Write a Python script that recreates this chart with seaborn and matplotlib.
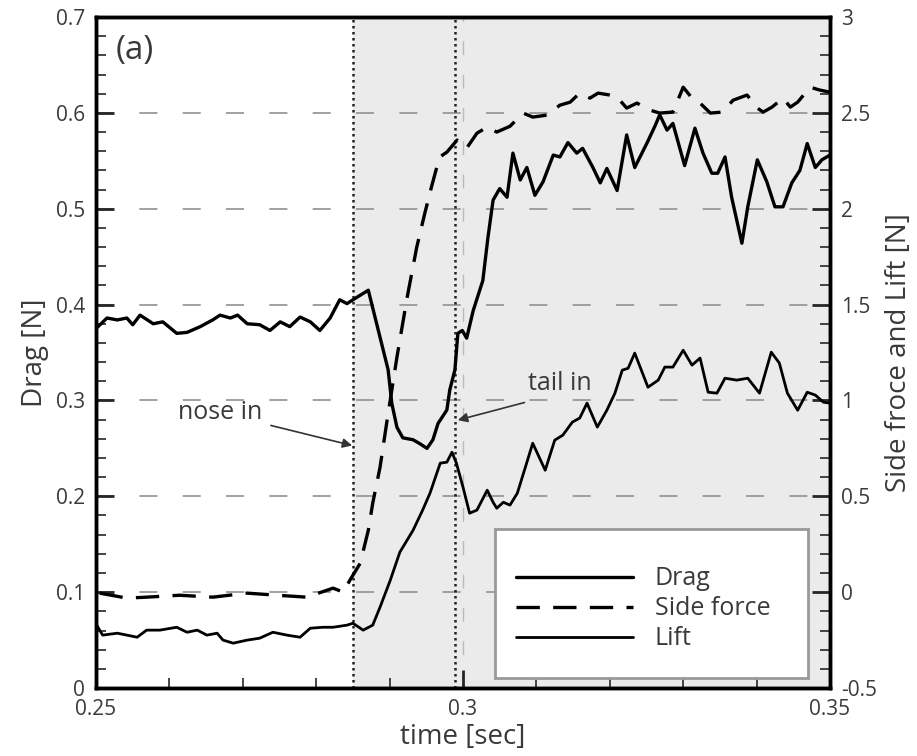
import numpy as np
import pandas as pd
import matplotlib
matplotlib.use("Agg")
import matplotlib.pyplot as plt
from matplotlib.ticker import MultipleLocator
from matplotlib.patches import Rectangle
import seaborn as sns

# drag (left axis)
drag_t = [0.2500, 0.2515, 0.2529, 0.2542, 0.2550, 0.2560, 0.2578, 0.2591, 0.2610, 0.2624,
          0.2642, 0.2659, 0.2669, 0.2683, 0.2693, 0.2706, 0.2723, 0.2737, 0.2751, 0.2764,
          0.2778, 0.2792, 0.2805, 0.2819, 0.2832, 0.2842, 0.2850, 0.2871, 0.2898, 0.2903,
          0.2910, 0.2918, 0.2932, 0.2941, 0.2951, 0.2959, 0.2966, 0.2978, 0.2982, 0.2989,
          0.2993, 0.2999, 0.3005, 0.3014, 0.3027, 0.3034, 0.3041, 0.3050, 0.3060, 0.3068,
          0.3078, 0.3087, 0.3098, 0.3109, 0.3123, 0.3132, 0.3143, 0.3155, 0.3163, 0.3177,
          0.3187, 0.3196, 0.3210, 0.3223, 0.3234, 0.3251, 0.3262, 0.3268, 0.3278, 0.3286,
          0.3302, 0.3316, 0.3327, 0.3339, 0.3347, 0.3357, 0.3366, 0.3380, 0.3388, 0.3401,
          0.3414, 0.3425, 0.3436, 0.3448, 0.3459, 0.3469, 0.3480, 0.3489, 0.3500]
drag = [0.375, 0.386, 0.384, 0.386, 0.379, 0.389, 0.380, 0.382, 0.370, 0.371,
        0.377, 0.384, 0.389, 0.386, 0.389, 0.380, 0.379, 0.373, 0.382, 0.377,
        0.387, 0.382, 0.373, 0.386, 0.405, 0.401, 0.405, 0.415, 0.332, 0.297,
        0.272, 0.261, 0.259, 0.255, 0.250, 0.259, 0.276, 0.290, 0.311, 0.332,
        0.370, 0.373, 0.365, 0.394, 0.425, 0.470, 0.509, 0.521, 0.512, 0.558,
        0.530, 0.543, 0.514, 0.528, 0.556, 0.554, 0.569, 0.558, 0.563, 0.543,
        0.527, 0.542, 0.519, 0.577, 0.543, 0.569, 0.587, 0.598, 0.582, 0.589,
        0.545, 0.584, 0.558, 0.537, 0.537, 0.554, 0.512, 0.464, 0.502, 0.551,
        0.528, 0.502, 0.502, 0.527, 0.540, 0.568, 0.543, 0.551, 0.556]

# side force (right axis)
side_t = [0.2505, 0.2542, 0.2569, 0.2614, 0.2659, 0.2706, 0.2747, 0.2787, 0.2823, 0.2837,
          0.2846, 0.2860, 0.2871, 0.2877, 0.2887, 0.2896, 0.2910, 0.2924, 0.2937, 0.2948,
          0.2957, 0.2968, 0.2978, 0.2992, 0.3005, 0.3019, 0.3033, 0.3046, 0.3064, 0.3082,
          0.3095, 0.3114, 0.3132, 0.3146, 0.3159, 0.3173, 0.3184, 0.3200, 0.3210, 0.3223,
          0.3237, 0.3255, 0.3268, 0.3286, 0.3300, 0.3312, 0.3323, 0.3337, 0.3353, 0.3368,
          0.3387, 0.3401, 0.3409, 0.3421, 0.3436, 0.3446, 0.3456, 0.3473, 0.3486, 0.3500]
side = [-0.005, -0.031, -0.026, -0.016, -0.026, -0.005, -0.016, -0.026, 0.021, 0.000,
        0.063, 0.151, 0.323, 0.464, 0.652, 0.882, 1.226, 1.539, 1.800, 1.977,
        2.113, 2.269, 2.295, 2.358, 2.316, 2.394, 2.426, 2.400, 2.430, 2.499,
        2.478, 2.488, 2.540, 2.556, 2.603, 2.577, 2.603, 2.593, 2.582, 2.525,
        2.551, 2.514, 2.499, 2.504, 2.634, 2.577, 2.551, 2.499, 2.504, 2.566,
        2.593, 2.525, 2.504, 2.530, 2.577, 2.530, 2.556, 2.634, 2.619, 2.608]

# lift (right axis)
lift_t = [0.2501, 0.2509, 0.2529, 0.2542, 0.2556, 0.2569, 0.2587, 0.2610, 0.2624, 0.2638,
          0.2651, 0.2665, 0.2673, 0.2687, 0.2706, 0.2723, 0.2741, 0.2760, 0.2778, 0.2792,
          0.2809, 0.2823, 0.2842, 0.2850, 0.2864, 0.2877, 0.2887, 0.2901, 0.2914, 0.2932,
          0.2945, 0.2955, 0.2969, 0.2978, 0.2985, 0.2991, 0.3000, 0.3009, 0.3019, 0.3033,
          0.3041, 0.3046, 0.3055, 0.3064, 0.3074, 0.3085, 0.3095, 0.3112, 0.3125, 0.3136,
          0.3149, 0.3159, 0.3169, 0.3183, 0.3196, 0.3207, 0.3217, 0.3225, 0.3234, 0.3252,
          0.3266, 0.3275, 0.3286, 0.3300, 0.3312, 0.3323, 0.3334, 0.3346, 0.3357, 0.3373,
          0.3388, 0.3404, 0.3420, 0.3431, 0.3442, 0.3456, 0.3469, 0.3480, 0.3491, 0.3500]
lift = [-0.172, -0.224, -0.214, -0.224, -0.235, -0.198, -0.198, -0.183, -0.209, -0.198,
        -0.224, -0.214, -0.250, -0.266, -0.250, -0.240, -0.209, -0.224, -0.235, -0.188,
        -0.183, -0.183, -0.172, -0.162, -0.198, -0.172, -0.078, 0.063, 0.209, 0.323,
        0.428, 0.516, 0.673, 0.678, 0.730, 0.673, 0.548, 0.412, 0.428, 0.532,
        0.469, 0.438, 0.469, 0.454, 0.516, 0.652, 0.777, 0.636, 0.793, 0.819,
        0.887, 0.908, 0.986, 0.861, 0.949, 1.038, 1.158, 1.168, 1.247, 1.069,
        1.106, 1.174, 1.174, 1.262, 1.184, 1.221, 1.043, 1.038, 1.116, 1.106,
        1.116, 1.038, 1.252, 1.195, 1.038, 0.949, 1.043, 1.028, 0.991, 0.986]

nose_in = 0.285
tail_in = 0.2989

sns.set_style("ticks")
plt.rcParams["font.family"] = ["Open Sans", "DejaVu Sans"]
txt = "#3a3a3a"

fig = plt.figure(figsize=(9.17, 7.56), dpi=100)
ax = fig.add_axes([0.1047, 0.0899, 0.8004, 0.8876])
ax2 = ax.twinx()

#shaded window + event lines
ax.axvspan(nose_in, 0.35, color="#ebebeb", lw=0, zorder=0)
ax.axvline(nose_in, color="#222222", ls=(0, (1, 1.4)), lw=1.8, zorder=1)
ax.axvline(tail_in, color="#222222", ls=(0, (1, 1.4)), lw=1.8, zorder=1)

sns.lineplot(x=drag_t, y=drag, ax=ax, color="black", lw=2.4, label="Drag", legend=False)
sns.lineplot(x=side_t, y=side, ax=ax2, color="black", lw=2.4, label="Side force", legend=False)
sns.lineplot(x=lift_t, y=lift, ax=ax2, color="black", lw=2.0, label="Lift", legend=False)
ax2.lines[0].set_linestyle((0, (7, 4)))

ax.set_xlim(0.25, 0.35)
ax.set_ylim(0, 0.7)
ax2.set_ylim(-0.5, 3)

ax.xaxis.set_minor_locator(MultipleLocator(0.01))
ax.yaxis.set_minor_locator(MultipleLocator(0.02))
ax2.yaxis.set_minor_locator(MultipleLocator(0.1))
ax.set_xticks([0.25, 0.3, 0.35])
ax.set_xticklabels(["0.25", "0.3", "0.35"])
ax.set_yticks(np.arange(0, 0.71, 0.1))
ax.set_yticklabels(["0", "0.1", "0.2", "0.3", "0.4", "0.5", "0.6", "0.7"])
ax2.set_yticks(np.arange(-0.5, 3.01, 0.5))
ax2.set_yticklabels(["-0.5", "0", "0.5", "1", "1.5", "2", "2.5", "3"])

ax.grid(axis="y", which="major", color="#999999", ls=(0, (10, 14)), lw=1.3)
ax.grid(axis="x", which="major", color="#bbbbbb", ls=(0, (10, 14)), lw=1.0)

for a in (ax, ax2):
    for s in a.spines.values():
        s.set_linewidth(2.5)
        s.set_color("black")
ax.tick_params(which="major", direction="in", length=13, width=2, labelsize=15,
               labelcolor=txt, pad=8, top=False, right=False)
ax.tick_params(which="minor", direction="in", length=7, width=1.2, top=False, right=False)
ax2.tick_params(which="major", direction="in", length=13, width=2, labelsize=15,
                labelcolor=txt, pad=8)
ax2.tick_params(which="minor", direction="in", length=7, width=1.2)

ax.set_xlabel("time [sec]", fontsize=20, color=txt, labelpad=2)
ax.set_ylabel("Drag [N]", fontsize=20, color=txt, labelpad=5)
ax2.set_ylabel("Side froce and Lift [N]", fontsize=20, color=txt, labelpad=6)

ax.text(0.027, 0.975, "(a)", transform=ax.transAxes, fontsize=24, color=txt,
        ha="left", va="top")

arrow = dict(arrowstyle="-|>", color="#333333", lw=1.2, mutation_scale=14, shrinkA=4, shrinkB=0)
ax.annotate("nose in", xy=(0.2849, 0.253), xytext=(0.2669, 0.287), fontsize=18, color=txt,
            ha="center", va="center", arrowprops=arrow)
ax.annotate("tail in", xy=(0.2993, 0.2795), xytext=(0.3132, 0.318), fontsize=18, color=txt,
            ha="center", va="center",
            arrowprops=dict(arrow, relpos=(0.35, 0.0), shrinkA=10))

# legend box
ax2.add_patch(Rectangle((0.5436, 0.0149), 0.4264, 0.2221, transform=ax2.transAxes,
                        facecolor="white", edgecolor="#999999", lw=2, zorder=4))
handles = [l for l in ax.lines if l.get_label() == "Drag"] + list(ax2.lines[:2])
leg = ax2.legend(handles=handles, labels=["Drag", "Side force", "Lift"], loc="center left",
                 bbox_to_anchor=(0.572, 0.118), frameon=False, fontsize=18,
                 handlelength=4.7, handletextpad=0.85, labelspacing=0.2,
                 borderpad=0, borderaxespad=0)
for t in leg.get_texts():
    t.set_color(txt)
leg.set_zorder(6)

fig.savefig("out.png", dpi=100)
